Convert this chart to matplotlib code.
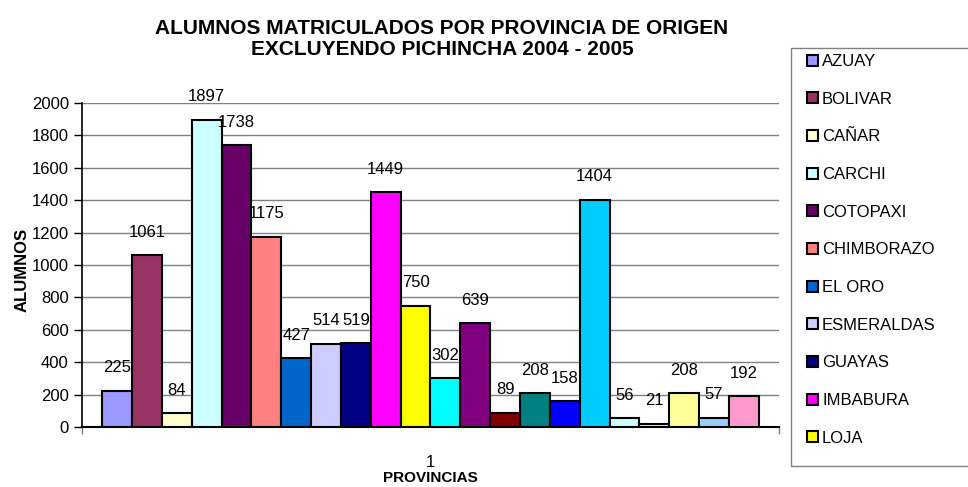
import matplotlib
matplotlib.use("Agg")
import matplotlib.pyplot as plt
from matplotlib.patches import Rectangle, Patch
import numpy as np

plt.rcParams['font.family'] = ['Liberation Sans', 'DejaVu Sans']

provincias = ['AZUAY', 'BOLIVAR', 'CAÑAR', 'CARCHI', 'COTOPAXI', 'CHIMBORAZO',
              'EL ORO', 'ESMERALDAS', 'GUAYAS', 'IMBABURA', 'LOJA', 'LOS RIOS',
              'MANABI', 'MORONA SANTIAGO', 'NAPO', 'PASTAZA', 'TUNGURAHUA',
              'ZAMORA CHINCHIPE', 'GALAPAGOS', 'SUCUMBIOS', 'ORELLANA', 'OTROS']
alumnos = [225, 1061, 84, 1897, 1738, 1175, 427, 514, 519, 1449, 750, 302,
           639, 89, 208, 158, 1404, 56, 21, 208, 57, 192]
colores = ['#9999FF', '#993366', '#FFFFCC', '#CCFFFF', '#660066', '#FF8080',
           '#0066CC', '#CCCCFF', '#000080', '#FF00FF', '#FFFF00', '#00FFFF',
           '#800080', '#800000', '#008080', '#0000FF', '#00CCFF', '#CCFFFF',
           '#CCFFCC', '#FFFF99', '#99CCFF', '#FF99CC']

W, H = 968, 487
fig = plt.figure(figsize=(W / 100, H / 100), dpi=100)
ax = fig.add_axes([82 / W, 1 - 427 / H, (779 - 82) / W, (427 - 103) / H])

x = np.arange(len(alumnos))
ax.bar(x, alumnos, width=1.0, color=colores, edgecolor='black', linewidth=1.5, zorder=3)
for xi, v in zip(x, alumnos):
    ax.annotate(str(v), (xi, v), xytext=(0, 11), textcoords='offset points',
                ha='center', va='bottom', fontsize=12)

pad = 0.68
x0, x1 = -0.5 - pad, len(alumnos) - 0.5 + pad
ax.set_xlim(x0, x1)
ax.set_ylim(0, 2000)
ax.set_yticks(range(0, 2001, 200))
ax.set_xticks([(len(alumnos) - 1) / 2])
ax.set_xticklabels(['1'], fontsize=12)
ax.set_xticks([x0, x1], minor=True)
ax.tick_params(axis='x', which='major', length=0, pad=20)
ax.tick_params(axis='x', which='minor', length=5, width=1, color='#808080')
ax.tick_params(axis='y', labelsize=12, length=6, direction='out', width=1)
ax.yaxis.grid(True, color='#808080', linewidth=1, zorder=0)
for s in ['top', 'right']:
    ax.spines[s].set_visible(False)
ax.spines['left'].set_linewidth(1.2)
ax.spines['bottom'].set_linewidth(1.5)

fig.text(430 / W, 1 - 478 / H, 'PROVINCIAS', ha='center', va='center',
         fontsize=11, fontweight='bold')
fig.text(22 / W, 1 - 270 / H, 'ALUMNOS', ha='center', va='center',
         rotation=90, fontsize=12, fontweight='bold')
fig.text(442 / W, 1 - 39 / H, 'ALUMNOS MATRICULADOS POR PROVINCIA DE ORIGEN\nEXCLUYENDO PICHINCHA 2004 - 2005',
         ha='center', va='center', fontsize=15, fontweight='bold', linespacing=1.1)

fig.patches.append(Rectangle((791 / W, 1 - 466 / H), 0.3, (466 - 48) / H,
                             transform=fig.transFigure, fill=False,
                             edgecolor='#808080', linewidth=1))
handles = [Patch(facecolor=c, edgecolor='black', linewidth=1.5) for c in colores[:11]]
fig.legend(handles, provincias[:11], loc='upper left',
           bbox_to_anchor=(807 / W, 1 - 54 / H), frameon=False, fontsize=12,
           handlelength=0.65, handleheight=0.65, handletextpad=0.25,
           labelspacing=1.36, borderaxespad=0, borderpad=0)

fig.savefig('out.png', dpi=100)
